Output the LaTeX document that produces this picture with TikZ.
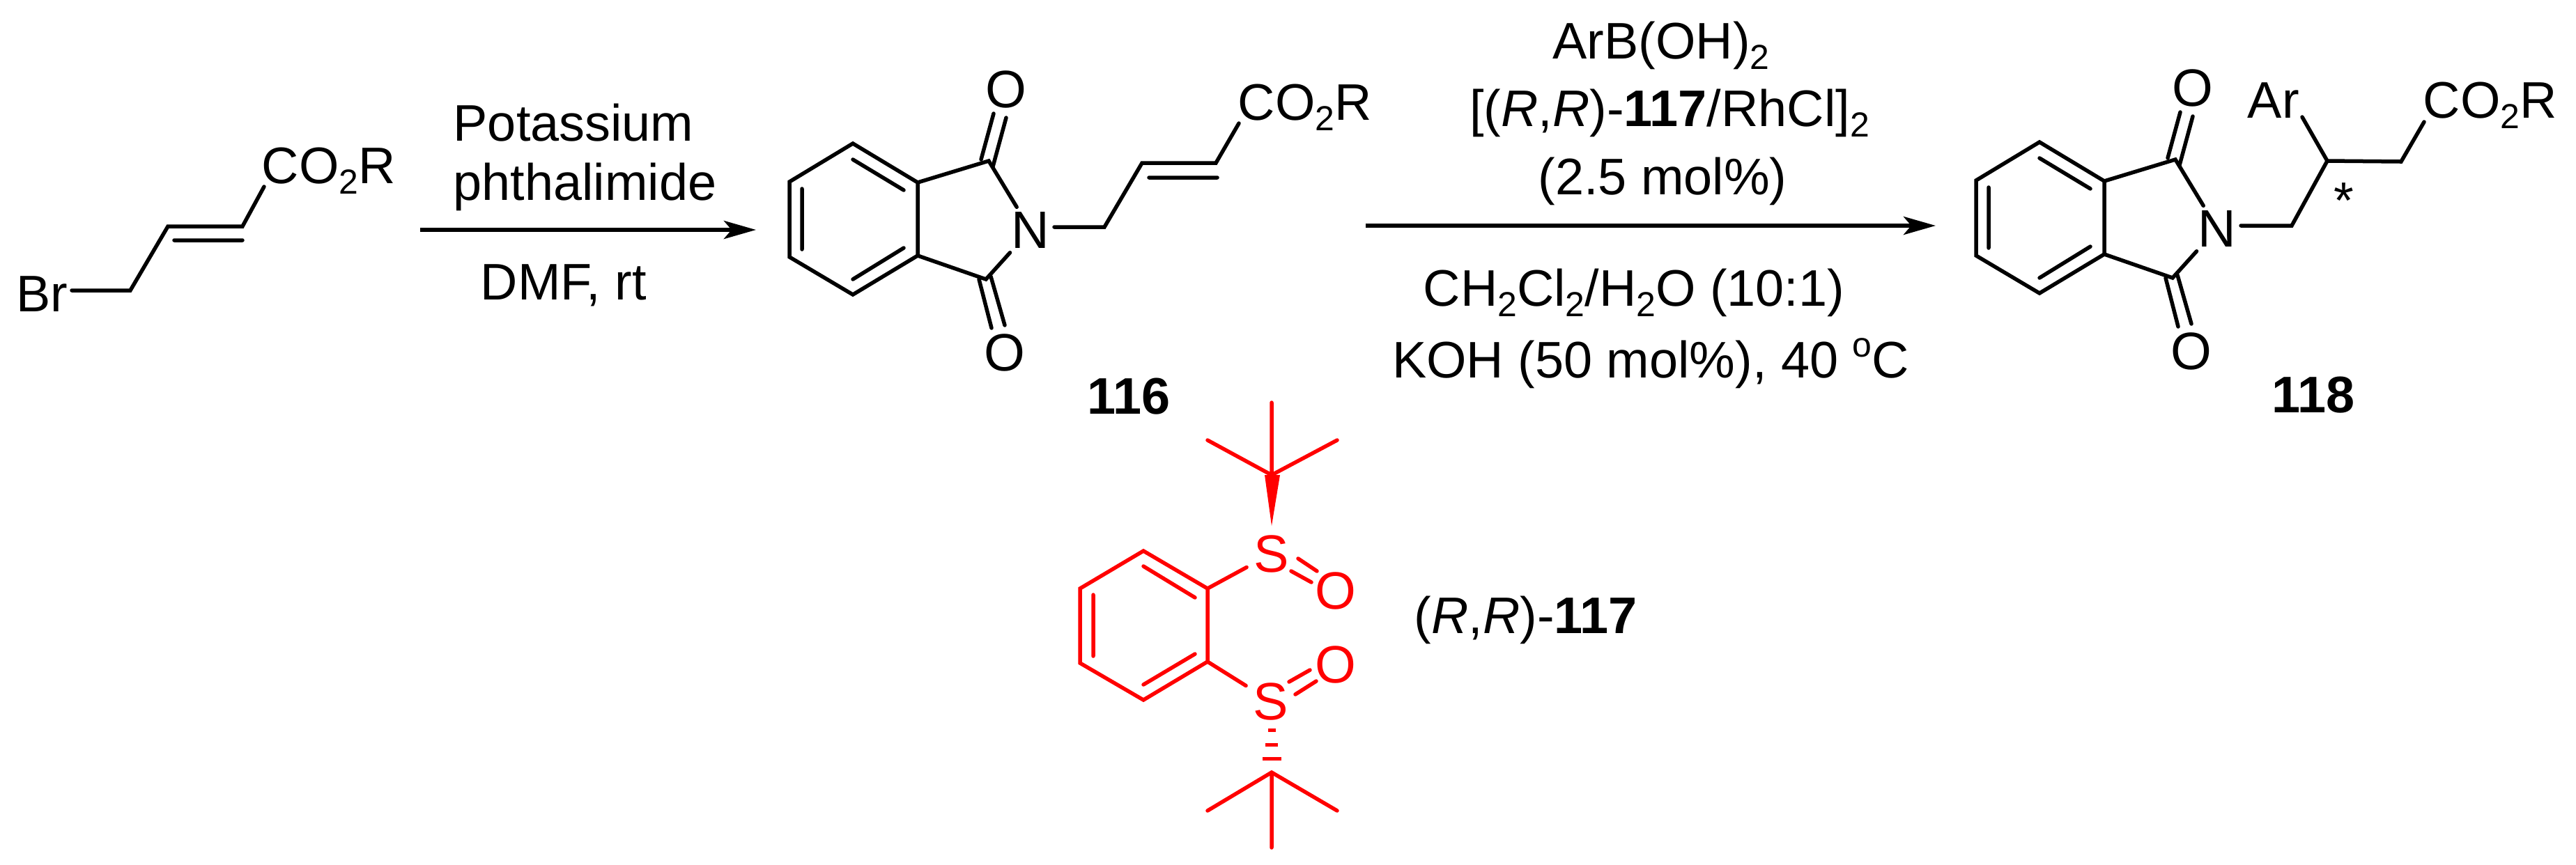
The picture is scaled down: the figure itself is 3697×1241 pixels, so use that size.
\documentclass[tikz,border=0pt]{standalone}
\usepackage{fontspec}
\setmainfont{Liberation Sans}
\usetikzlibrary{arrows.meta}
\newcommand{\sbs}[1]{\raisebox{-4.5pt}{\fontsize{14.2}{14.2}\selectfont #1}}
\newcommand{\sps}[1]{\raisebox{8.5pt}{\fontsize{14.2}{14.2}\selectfont #1}}
\tikzset{
    bond/.style={line width=0.055cm,line cap=round,line join=miter},
    rbond/.style={bond,red},
    atom/.style={inner sep=0.06cm,font=\fontsize{21.5}{24}\selectfont},
    txt/.style={inner sep=0pt,anchor=base,font=\fontsize{21}{24}\selectfont},
    txtw/.style={txt,anchor=base west},
    rxn/.style={line width=0.06cm,-{Stealth[length=0.46cm,width=0.26cm,inset=0.11cm]}},
    imide/.pic={
        \foreach \n/\p in {b1/{0,0},b2/{93,56},b3/{93,161},b4/{0,217},b5/{-91,163},b6/{-91,55},
            ia/{0,23},ib/{73,67},ic/{-73,65},id/{-73,152},ie/{0,195},if/{73,150},
            ct/{195,25},cb/{191,195},
            ta/{184,23},tb/{202,-43},tc/{201,33},td/{220,-37},
            ua/{181,195},ub/{199,265},uc/{198,191},ud/{218,261}}
            \coordinate (-\n) at (\p);
        \node[atom] (-N) at (255,124) {N};
        \node[atom] (-Ot) at (220,-78) {O};
        \node[atom] (-Ob) at (218,300) {O};
        \draw[bond] (-b1)--(-b2)--(-b3)--(-b4)--(-b5)--(-b6)--cycle;
        \draw[bond] (-ia)--(-ib) (-ic)--(-id) (-ie)--(-if);
        \draw[bond] (-b2)--(-ct)--(-N) (-b3)--(-cb)--(-N);
        \draw[bond] (-ta)--(-tb) (-tc)--(-td) (-ua)--(-ub) (-uc)--(-ud);
    },
}
\begin{document}
\begin{tikzpicture}[x=0.01cm,y=-0.01cm]
    \useasboundingbox (0,0) rectangle (3697,1241);
    % bromo ester
    \node[txtw] (br) at (23,447) {Br};
    \node[txtw] (est) at (375,263) {CO\sbs{2}R};
    \coordinate (a1) at (103,417);
    \coordinate (a2) at (187,417);
    \coordinate (a3) at (241,325);
    \coordinate (a4) at (348,325);
    \coordinate (a5) at (379,268);
    \coordinate (a6) at (250,345);
    \coordinate (a7) at (348,345);
    \draw[bond] (a1)--(a2)--(a3)--(a4)--(a5) (a6)--(a7);
    % first arrow
    \coordinate (p1) at (603,330);
    \coordinate (p2) at (1085,330);
    \draw[rxn] (p1)--(p2);
    \node[txtw] (pot) at (650,202) {Potassium};
    \node[txtw] (pht) at (650,287) {phthalimide};
    \node[txtw] (dmf) at (689,430) {DMF, rt};
    % compound 116
    \pic (m) at (1224,206) {imide};
    \node[txtw] (est2) at (1776,172) {CO\sbs{2}R};
    \coordinate (c2) at (1585,326);
    \coordinate (c3) at (1639,234);
    \coordinate (c4) at (1745,234);
    \coordinate (c5) at (1778,177);
    \coordinate (c6) at (1649,255);
    \coordinate (c7) at (1747,255);
    \draw[bond] (c2-|m-N.east)--(c2)--(c3)--(c4)--(c5) (c6)--(c7);
    \node[txt] (l116) at (1620,594) {\textbf{116}};
    % second arrow
    \coordinate (q1) at (1960,324);
    \coordinate (q2) at (2778,324);
    \draw[rxn] (q1)--(q2);
    \node[txt] (r1) at (2384,84) {ArB(OH)\sbs{2}};
    \node[txt] (r2) at (2396,181) {[(\textit{R},\textit{R})-\textbf{117}/RhCl]\sbs{2}};
    \node[txt] (r3) at (2386,279) {(2.5 mol\%)};
    \node[txt] (r4) at (2345,439) {CH\sbs{2}Cl\sbs{2}/H\sbs{2}O (10:1)};
    \node[txt] (r5) at (2369,542) {KOH (50 mol\%), 40 \sps{o}C};
    % compound 118
    \pic (n) at (2927,204) {imide};
    \node[txtw] (ar) at (3225,169) {Ar};
    \node[txtw] (est3) at (3477,169) {CO\sbs{2}R};
    \node[inner sep=0pt,font=\fontsize{21}{24}\selectfont] (st) at (3364,288) {*};
    \coordinate (d2) at (3289,324);
    \coordinate (d3) at (3340,231);
    \coordinate (d4) at (3446,232);
    \coordinate (d5) at (3479,175);
    \coordinate (d6) at (3304,168);
    \draw[bond] (d2-|n-N.east)--(d2)--(d3)--(d4)--(d5) (d3)--(d6);
    \node[txt] (l118) at (3320,592) {\textbf{118}};
    % ligand 117
    \foreach \n/\p in {e1/{1641,791},e2/{1733,845},e3/{1733,950},e4/{1641,1005},e5/{1550,952},e6/{1550,845},
        f1/{1641,813},f2/{1715,858},f3/{1569,854},f4/{1569,942},f5/{1641,983},f6/{1715,939},
        g1/{1863,802},g2/{1890,820},g3/{1853,820},g4/{1882,836},
        h1/{1880,962},h2/{1850,979},h3/{1889,978},h4/{1859,997},
        t0/{1825,578},t1/{1825,682},t2/{1733,632},t3/{1919,632},t4/{1825,755},t5/{1815,682},t6/{1837,682},
        u0/{1825,1217},u1/{1825,1109},u2/{1733,1164},u3/{1919,1164}}
        \coordinate (\n) at (\p);
    \node[atom,red,inner sep=0.1cm] (s1) at (1825,795) {S};
    \node[atom,red,inner sep=0.1cm] (s2) at (1824,1007) {S};
    \node[atom,red] (o1) at (1917,848) {O};
    \node[atom,red] (o2) at (1917,954) {O};
    \draw[rbond] (e1)--(e2)--(e3)--(e4)--(e5)--(e6)--cycle;
    \draw[rbond] (f1)--(f2) (f3)--(f4) (f5)--(f6);
    \draw[rbond] (e2)--(s1) (e3)--(s2);
    \draw[rbond] (g1)--(g2) (g3)--(g4) (h1)--(h2) (h3)--(h4);
    \draw[rbond] (t0)--(t1) (t2)--(t1)--(t3);
    \fill[red] (t4)--(t5)--(t6)--cycle;
    \draw[rbond] (u0)--(u1) (u2)--(u1)--(u3);
    \foreach \y/\w in {1048/5.5,1069/9,1089/13.5}
        \fill[red] (1825-\w,\y-2.5) rectangle (1825+\w,\y+2.5);
    \node[txtw] (l117) at (2029,909) {(\textit{R},\textit{R})-\textbf{117}};
\end{tikzpicture}
\end{document}
